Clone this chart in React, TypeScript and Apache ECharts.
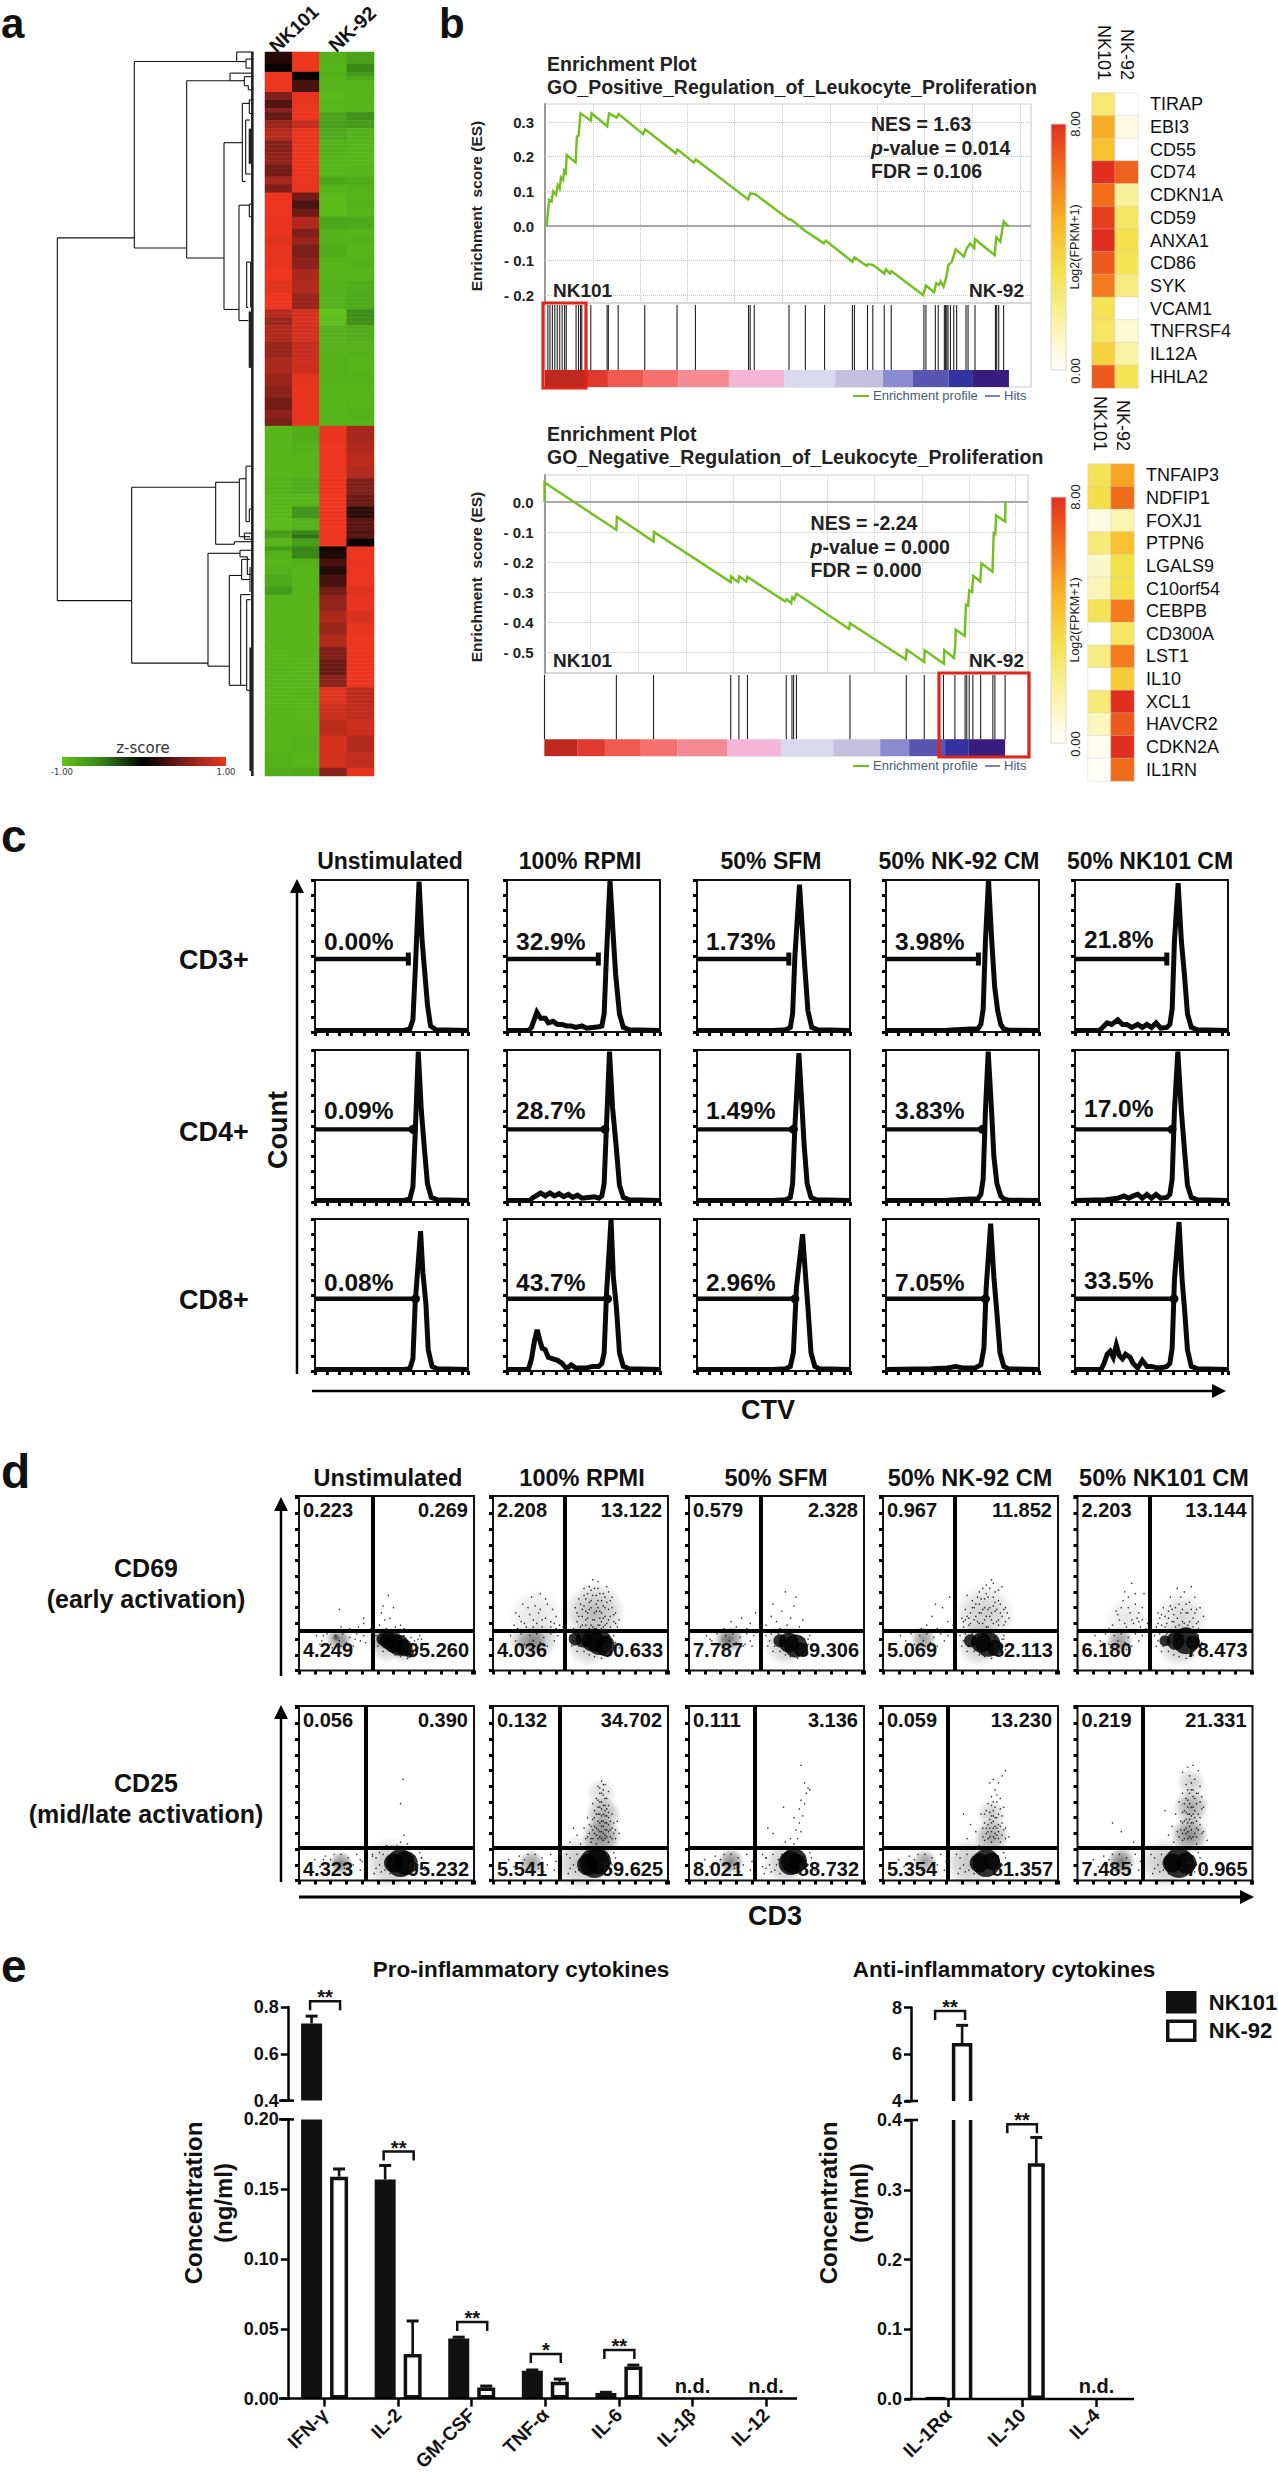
import React, { useEffect, useRef } from "react";
import * as echarts from "echarts";

const F = '"Liberation Sans", Arial, sans-serif';
const DJ = '"DejaVu Sans", sans-serif';

/* ---------- panel a ---------- */
const heatRuns = [
  [3,.15,1,-.85,-.75],[2,.03,1,-.88,-.55],[1,1,.02,-.85,-.7],[1,1,.05,-.9,-.8],[3,1,.28,-.88,-.88],[2,.5,.98,-.92,-.88],
  [2,.32,.98,-.9,-.9],[1,.55,.98,-.9,-.88],[2,.4,1,-.75,-.62],[2,.62,.82,-.72,-.7],[3,.75,.98,-.8,-.85],[3,.52,.98,-.85,-.88],
  [3,.58,1,-.88,-.9],[3,.45,.98,-.9,-.88],[2,.68,.98,-.78,-.82],[2,.5,.98,-.88,-.85],[2,1,.45,-.92,-.88],[2,1,.3,-.95,-.85],
  [2,1,.42,-.95,-.9],[3,.98,.72,-.78,-.8],[2,.98,.5,-.85,-.88],[2,.95,.62,-.85,-.85],[3,.98,.48,-.82,-.88],[3,.98,.55,-.88,-.85],
  [3,1,.7,-.88,-.88],[3,.95,.72,-.85,-.82],[4,1,.62,-.85,-.8],[2,.75,.88,-.98,-.6],[2,.62,.9,-.95,-.62],[4,.72,.88,-.85,-.82],
  [4,.62,.82,-.85,-.85],[4,.7,.85,-.85,-.88],[3,.62,.95,-.85,-.85],[3,.55,.98,-.88,-.88],[3,.45,.98,-.9,-.88],[2,.55,.98,-.88,-.85],
  [2,.48,.98,-.88,-.88],[4,-.9,-.82,.98,.68],[3,-.88,-.85,1,.72],[3,-.88,-.88,1,.78],[3,-.9,-.88,1,.72],[4,-.85,-.82,1,.5],
  [3,-.9,-.88,1,.42],[3,-.9,-.65,1,.18],[3,-.92,-.85,1,.35],[1,-.7,-.55,1,.3],[1,-.75,-.45,1,.35],[2,-.9,-.72,1,.05],
  [1,-.7,-.55,.05,1],[2,-.85,-.55,.12,1],[2,-.9,-.85,.28,.98],[2,-.85,-.9,.15,1],[3,-.8,-.88,.28,1],[2,-.7,-.88,.45,.95],
  [4,-.88,-.88,.58,.98],[3,-.9,-.9,.7,.92],[3,-.9,-.9,.62,.98],[3,-.88,-.9,.72,1],[3,-.9,-.88,.5,1],[4,-.88,-.9,.42,1],
  [3,-.88,-.88,.55,1],[4,-.9,-.88,.95,.78],[4,-.88,-.9,.85,.8],[4,-.9,-.88,.78,.85],[4,-.88,-.85,.9,.72],[4,-.85,-.88,.88,.8],
  [2,-.82,-.8,.55,.95],
];
const dendroLinks = [
  [172,472,172,1192],[172,472,403,472],[172,1192,395,1192],
  [403,122,403,492],[403,122,710,122],[403,492,560,492],
  [710,103,710,122],[710,103,760,103],[710,122,738,122],[738,117,738,135],[738,117,760,117],[738,135,752,135],
  [560,160,560,512],[560,160,690,160],[560,512,672,512],
  [690,145,690,160],[690,145,755,145],[690,160,733,160],[733,152,733,170],[733,152,760,152],[733,170,745,170],[745,170,745,178],[745,178,760,178],
  [672,283,672,614],[672,283,727,283],[672,614,717,614],
  [727,205,727,360],[727,205,748,205],[748,198,748,225],[748,198,760,198],[748,225,760,225],[727,360,737,360],[737,238,737,345],[737,238,750,238],[737,345,752,345],
  [717,407,717,636],[717,407,748,407],[717,636,745,636],[748,405,748,430],[748,405,758,405],[748,430,758,430],
  [740,520,740,610],[740,520,752,520],[752,520,752,610],[740,610,745,610],
  [395,967,395,1316],[395,967,647,967],[395,1316,624,1316],
  [647,957,647,1080],[647,957,718,957],[647,1080,703,1080],
  [718,950,718,1065],[718,950,738,950],[718,1065,750,1065],[738,925,738,1035],[738,925,755,925],[738,1035,748,1035],[748,1010,748,1035],[748,1010,758,1010],
  [703,1075,703,1080],[703,1075,755,1075],[733,1058,733,1070],[733,1058,755,1058],[733,1070,755,1070],
  [624,1098,624,1322],[624,1098,720,1098],[624,1322,688,1322],
  [720,1092,720,1105],[720,1092,755,1092],[720,1105,742,1105],[742,1105,742,1140],[742,1140,755,1140],
  [688,1142,688,1360],[688,1142,725,1142],[688,1360,722,1360],
  [725,1110,725,1150],[725,1110,750,1110],[725,1150,750,1150],[750,1125,750,1175],
  [722,1180,722,1360],[722,1180,752,1180],[722,1360,740,1360],
  [740,1190,740,1370],[740,1190,752,1190],[740,1370,752,1370],
];
const dendroThick = [[757,103,757,1540],[750,618,750,730],[750,255,750,325],[752,1285,752,1530]];

/* ---------- panel b ---------- */
const esTop = [
  [262,0],[268,.075],[274,.07],[278,.1],[285,.09],[289,.118],[294,.108],[297,.14],[302,.133],[305,.16],[309,.153],[311,.205],
  [333,.183],[336,.258],[340,.26],[345,.325],[370,.304],[372,.325],[410,.288],[415,.325],[433,.313],[438,.323],[498,.265],
  [503,.279],[578,.21],[582,.221],[622,.183],[627,.192],[755,.077],[760,.094],[772,.092],[855,.019],[860,.019],[893,-.013],
  [940,-.05],[945,-.042],[1010,-.103],[1015,-.09],[1045,-.115],[1048,-.11],[1060,-.112],[1088,-.137],[1092,-.125],[1102,-.137],
  [1105,-.13],[1183,-.199],[1190,-.172],[1210,-.191],[1215,-.165],[1222,-.17],[1226,-.16],[1233,-.175],[1240,-.146],[1245,-.112],
  [1253,-.103],[1263,-.067],[1283,-.088],[1290,-.064],[1298,-.05],[1308,-.064],[1310,-.038],[1358,-.084],[1362,-.033],[1372,-.045],
  [1380,.013],[1393,-.002],
];
const esBottom = [
  [256,0],[256,.065],[432,-.093],[433,-.049],[523,-.132],[524,-.1],[712,-.267],[713,-.248],[730,-.267],[733,-.248],[750,-.265],
  [753,-.25],[845,-.331],[849,-.324],[860,-.337],[863,-.317],[868,-.324],[873,-.305],[1002,-.423],[1004,-.404],[1141,-.525],
  [1143,-.492],[1186,-.533],[1187,-.494],[1234,-.539],[1235,-.494],[1259,-.52],[1262,-.476],[1263,-.426],[1285,-.446],[1288,-.343],
  [1293,-.346],[1296,-.295],[1303,-.3],[1306,-.246],[1323,-.265],[1326,-.204],[1353,-.232],[1356,-.104],[1360,-.107],[1362,-.045],
  [1384,-.065],[1385,.003],
];
const hitsTop = [265,270,276,282,288,294,300,306,310,334,340,345,348,370,410,413,437,502,581,626,756,760,770,855,895,942,1010,1015,1047,1060,1088,1105,1185,1190,1213,1220,1235,1238,1241,1244,1250,1258,1265,1288,1293,1310,1360,1363,1368,1380];
const hitsBottom = [256,432,523,712,732,753,848,862,866,873,1004,1142,1186,1233,1261,1286,1290,1296,1305,1324,1354,1359,1384];
const bandColors = ["#c0281f","#e03a30","#ee5a50","#f77070","#f58a92","#f4b5d8","#d8d8ee","#c6c0e0","#8a8ad0","#5a55b0","#3333a0","#3a1c80"];
const bandTop = [258,358,412,498,585,708,843,968,1085,1157,1245,1303,1393];
const bandBottom = [256,336,404,492,581,703,835,963,1078,1149,1237,1295,1384];
const ticksTop = [.3,.2,.1,0,-.1,-.2];
const ticksBottom = [0,-.1,-.2,-.3,-.4,-.5];
const vGridTop = [375,490,605,722,838,955,1070,1187,1303,1420];
const vGridBottom = [368,485,602,717,833,948,1063,1180,1295,1410];
const genesTop = ["TIRAP","EBI3","CD55","CD74","CDKN1A","CD59","ANXA1","CD86","SYK","VCAM1","TNFRSF4","IL12A","HHLA2"];
const fpkmTop101 = [2.5,5,4.4,8,6.5,7.6,8,7,6.2,3,2.8,3.8,7];
const fpkmTop92 = [0,.5,0,6.8,1.8,2.8,3.2,3,2.2,0,.8,1.6,3];
const genesBottom = ["TNFAIP3","NDFIP1","FOXJ1","PTPN6","LGALS9","C10orf54","CEBPB","CD300A","LST1","IL10","XCL1","HAVCR2","CDKN2A","IL1RN"];
const fpkmBottom101 = [3,3.3,.5,2.4,1,1.3,3,0,2.2,0,2.4,1.2,.3,.1];
const fpkmBottom92 = [5.2,6.6,1.4,4.4,3.2,3.2,6.2,2.8,6.2,4,8,7,8,6.6];
const cellNames = ["NK101","NK-92"];
const fpkmColors = ["#ffffff","#f9f3a6","#f4e14c","#f8b628","#f3731c","#e02f20"];

/* ---------- panel c ---------- */
const conditions = ["Unstimulated","100% RPMI","50% SFM","50% NK-92 CM","50% NK101 CM"];
const subsets = ["CD3+","CD4+","CD8+"];
const ctvPercents = [
  ["0.00%","32.9%","1.73%","3.98%","21.8%"],
  ["0.09%","28.7%","1.49%","3.83%","17.0%"],
  ["0.08%","43.7%","2.96%","7.05%","33.5%"],
];
const gateEnds = [[61,59.7,60,60.4,60],[64,64,63,63,63.4],[65.7,65.7,64,65,64.7]];
const gateLevels = [48,47.8,47.5];
const hist = [
  [
    [0,1,58,1,62,2,64,8,65.5,40,68,99,70,60,71.5,42,73.5,18,75.5,4,79,1.5,100,1],
    [0,1,14,1,16,3,19.5,13,22,9,25,9,27,6,30,7,33,5,36,5,39,4,42,4,45,3,49,4,52,2.5,56,3,60,3.5,62,4,63.5,12,65,50,67.3,100,69.5,62,71,38,73.5,12,76,3,80,1.5,100,1],
    [0,1,50,1,58,1.5,61,3,62.5,12,64,50,67,97,69,65,70.5,42,72.5,14,75,3,79,1.5,100,1],
    [0,1,40,1.2,55,2,60,2,62,5,63.5,15,65,60,67,100,69,62,71,30,73,14,75,5,77,2,80,1.2,100,1],
    [0,1,16,1,18,3,21,6,24,5,28,8,31,5,34,5,37,3,41,5,44,3,47,5,50,3,53,6,56,2.5,60,3,62,5,63.5,15,65,60,67.4,98,69.5,60,71.5,38,73.5,12,76,3,80,1.5,100,1],
  ],
  [
    [0,1,58,1,62,2,64,10,65.5,45,67.5,99,69.5,60,71.5,35,73.5,12,76,3,80,1.5,100,1],
    [0,1,15,1,17,3,19,4,22,6,25,4,28,6,31,4,34,5.5,37,3.5,40,5,43,3,46,4.5,49,2.5,53,3,57,3.5,60,2.5,62,4,63.5,12,65,50,67,99,69,62,71.5,35,73.5,11,76,3,80,1.5,100,1],
    [0,1,50,1,58,1.5,61,3,62.5,12,64,50,66.6,98,68.5,65,70,38,72,12,74.5,3,78,1.5,100,1],
    [0,1,40,1.2,55,2,60,2,62,5,63.5,15,65,60,66.8,99,69,60,70.5,30,72.5,12,75,4,77,2,80,1.2,100,1],
    [0,1,20,1.5,28,2.5,32,4,35,2.5,38,4,41,5,44,2.5,47,5,50,2.5,53,5,56,2.5,60,3,62,5,63.5,15,65,60,67.2,99,69.5,60,71.5,35,73.5,11,76,3,80,1.5,100,1],
  ],
  [
    [0,1,58,1,62,1.5,64,8,65.5,45,69,92,70.5,65,72.5,44,74,14,76.5,3,80,1.5,100,1],
    [0,1,14,1,16,8,18,20,19.7,27,21.5,20,23,15,25,14,27,9,30,8,33,7,36,5,39,1.5,42,4,45,2,48,2,52,2,56,3,60,3,62,5,63.5,12,65,50,68,100,69.5,62,71.5,42,73.5,12,76,3,80,1.5,100,1],
    [0,1,50,1,58,1.5,61,3,63,12,65,55,69,90,71,62,72.5,42,74.5,12,77,3,80,1.5,100,1],
    [0,1,30,1.5,40,2,45.7,3,50,2,58,2,62,4,64,15,65.5,55,68.4,97,70.5,62,72.5,38,74.5,12,77,3,80,1.5,100,1],
    [0,1,17,1,19,5,21,11,23,13,25,9,27,17,29,10,31,8,33,11,36,9,38,5,41,2,44,7,47,3,50,3,54,2,58,2.5,60,3,62,5,63.5,15,65,60,68,98,70,60,71.5,42,73.5,14,76,3,80,1.5,100,1],
  ],
];

/* ---------- panel d ---------- */
const markers = ["CD69","CD25"];
const quadrants = [
  [["0.223","0.269","4.249","95.260"],["2.208","13.122","4.036","80.633"],["0.579","2.328","7.787","89.306"],["0.967","11.852","5.069","82.113"],["2.203","13.144","6.180","78.473"]],
  [["0.056","0.390","4.323","95.232"],["0.132","34.702","5.541","59.625"],["0.111","3.136","8.021","88.732"],["0.059","13.230","5.354","81.357"],["0.219","21.331","7.485","70.965"]],
];
const gatesX = [[42,41,41,41,41],[38,38,37.5,37,37.5]];
const gatesY = [23,18.5];
const clouds = [
  [
    [[48,18,13,1],[51,17,17,1],[54,16,20,1],[57,14.5,21,1],[60,13,17,1],[63,10,9,1],[50,15,38,.3],[46,18,22,.3],[60,10,24,.2],[21,19,8,.6],[22,18,24,.5],[26,17,20,.25]],
    [[47,18,13,1],[52,18,17,1],[57,17,22,1],[61,16,25,1],[64,14,20,1],[55,15,46,.3],[22,17,30,.5],[28,17,34,.25],[15,17,22,.25],[58,33,62,.35],[25,30,58,.14]],
    [[52,17,13,1],[57,16,20,1],[61,14,23,1],[64,12,14,1],[55,15,44,.3],[24,18,26,.6],[20,18,20,.35]],
    [[50,17,13,1],[56,16,20,1],[60,15,25,1],[64,13,16,1],[55,15,46,.3],[23,18,26,.5],[58,32,62,.25]],
    [[50,17,11,1],[56,17,18,1],[62,17,27,1],[66,16,14,1],[58,15,46,.3],[24,17,28,.5],[60,30,54,.2],[28,30,44,.12]],
  ],
  [
    [[54,10,19,1],[58,10,28,1],[61,10,24,1],[52,10,52,.3],[24,10,24,.6]],
    [[54,9,21,1],[58,10,30,1],[60,11,26,1],[50,10,56,.3],[62,25,40,.6],[63,38,36,.4],[62,50,32,.18],[22,10,26,.5]],
    [[58,10,24,1],[60,11,26,1],[62,10,17,1],[55,10,44,.3],[24,11,26,.6]],
    [[55,10,19,1],[59,10,28,1],[62,11,17,1],[50,10,52,.3],[62,25,36,.45],[62,38,30,.25],[24,11,24,.5]],
    [[54,10,19,1],[58,10,30,1],[62,10,21,1],[50,10,52,.3],[64,26,38,.6],[65,42,36,.45],[65,56,30,.25],[25,11,28,.65]],
  ],
];
const dots = [
  [
    [46,26,50,24,47,33,52,30,54,36,51,43,49,29,55,25,58,26,60,24,48,37,34,25,37,27,29,24,24,25,41,24,37,30,23,35,14,20,32,18,38,16,12,15,66,17,68,13,64,8,70,18],
    [48,28,51,31,53,26,55,35,57,29,59,38,60,26,62,33,64,42,66,29,68,36,70,27,47,36,49,41,52,37,54,44,56,40,58,47,61,44,63,37,65,48,67,40,69,32,71,25,50,25,52,47,57,52,60,51,62,28,64,31,58,33,56,26,54,30,60,36,63,25,66,35,59,43,61,30,55,39,53,34,12,26,15,31,18,27,20,36,23,29,26,33,28,25,31,38,33,28,36,31,38,26,22,42,27,44,17,38,30,30,34,35,25,27,19,25,14,24,36,24,40,25,66,20,70,16,72,13,46,24,48,33,50,38,51,26,52,43,53,29,54,33,55,24,55,48,56,36,57,25,57,43,58,29,59,24,59,34,60,40,60,47,61,34,61,26,62,40,62,24,63,30,63,44,64,36,65,27,65,39,66,45,67,31,67,25,68,42,69,28,70,33,72,29,49,31,51,35,53,41,56,46,58,24,64,26,23,25,27,35,21,32,16,28,30,41,33,25,24,37,28,29,35,27,13,33],
    [44,26,47,31,50,28,53,34,56,26,58,30,60,37,61,42,55,45,52,24,63,25,65,29,48,38,30,30,35,27,27,25,24,28,38,33,33,24,20,24,66,18,68,15,12,18,32,15,36,14],
    [45,30,47,35,49,26,51,40,53,31,55,45,57,27,58,36,59,49,60,42,61,31,62,52,63,37,64,45,65,28,66,40,67,33,68,48,69,26,70,36,72,30,48,43,52,36,54,28,56,33,58,41,60,25,62,29,64,34,66,26,50,33,46,25,55,38,59,31,61,36,63,42,25,26,28,31,31,24,34,36,30,38,37,28,22,24,38,42,40,26,69,18,71,14,46,28,48,31,50,27,52,29,53,38,54,42,55,27,56,41,57,47,58,29,59,25,60,35,61,47,62,33,63,27,64,39,65,35,66,29,66,46,67,38,68,31,69,35,70,28,71,33,63,50,59,44,57,35,55,33,51,36,49,30,47,29],
    [20,26,22,34,24,29,26,40,27,45,28,25,30,33,31,50,32,27,33,38,34,30,36,25,37,36,38,44,25,36,29,42,35,28,18,24,40,27,39,24,45,25,47,30,49,36,51,27,53,42,55,32,56,25,58,38,60,28,61,45,62,33,63,26,64,39,65,48,66,30,68,27,70,36,72,31,57,47,52,34,48,26,59,33,67,42,54,28,69,24,71,16,46,27,48,32,50,25,52,30,53,37,55,28,56,36,57,30,58,26,59,42,60,35,61,27,62,38,63,33,64,28,65,35,66,25,67,33,68,35,69,28,46,33,50,31,54,35,23,32,27,27,29,36,31,29,33,44,35,33,37,29],
  ],
  [
    [59.5,58,58,44,58,22,56,20,53,19.5,60,26,50,20,62,21,42,14,46,16,70,13,72,8,35,12,14,12,12,8],
    [56,22,58,27,60,24,62,31,64,26,66,22,57,35,59,30,61,38,63,34,65,29,67,25,55,27,53,24,60,42,62,45,64,40,66,36,58,40,56,31,68,30,70,24,50,21,52,30,54,36,61,50,63,52,65,47,59,47,57,44,62,57,64,55,60,54,66,43,68,38,61,28,63,23,59,21,65,33,60,34,62,37,64,43,61,45,63,49,48,26,72,27,71,34,46,30,44,22,66,51,57,24,58,31,59,26,60,29,60,38,61,25,61,33,61,42,62,24,62,28,62,34,62,41,62,50,63,27,63,31,63,38,63,43,63,55,64,24,64,29,64,33,64,37,64,47,65,25,65,37,65,41,66,28,66,32,66,39,67,29,67,34,68,24,69,27,69,33,70,29,58,36,59,38,57,29,55,32,54,25,56,24,60,46,61,53],
    [62,24,64,28,60,21,63,33,65,37,61,29,66,44,67,50,68,53,63,41,64,46,58,24,55,22,48,27,45,30,64,66,66,56,69,52,54,42,60,36,42,8,44,13],
    [55,20,57,25,59,30,61,35,63,40,65,45,62,22,64,27,66,32,68,37,60,24,58,33,56,38,60,44,62,48,64,52,66,56,68,60,70,63,61,30,63,34,65,26,67,22,53,28,50,32,48,24,70,30,72,25,69,42,67,47,63,58,61,56,59,40,62,28,64,36,46,38,58,23,59,27,60,28,60,32,61,25,61,39,62,33,62,37,62,43,63,25,63,30,63,37,63,45,64,24,64,31,64,42,65,30,65,36,65,49,66,24,66,28,66,38,67,31,67,41,68,26,68,33,69,29,70,24,57,30,58,38],
    [55,22,57,28,59,34,61,40,63,46,65,52,67,58,69,63,66,66,68,30,70,36,72,42,60,23,62,27,64,31,66,25,68,21,58,45,60,50,62,55,64,60,66,48,68,44,70,54,62,35,64,38,66,42,63,65,60,62,56,38,54,31,52,26,50,40,72,28,74,23,65,33,67,36,61,29,63,24,69,50,71,48,20,33,25,28,32,22,58,25,59,29,60,27,60,33,60,39,61,24,61,34,61,44,62,30,62,39,62,47,63,28,63,33,63,38,63,42,63,52,64,25,64,35,64,44,64,50,65,24,65,29,65,37,65,42,65,56,66,33,66,38,66,52,67,27,67,40,67,47,68,25,68,34,68,50,69,29,69,38,70,32,70,45,71,27,71,41],
  ],
];
const fringe = [
  [10,20,13,17,16,21,18,15,21,20,23,17,25,21,27,16,29,19,31,14,33,21,35,17,37,20,19,13,24,14,28,12,44,20,46,17,47,21,49,14,51,21,52,11,54,20,55,9,57,21,58,8,60,20,62,7,64,19,66,9,68,18,70,12,48,11,45,14,63,14,67,15,69,20],
  [9,12,12,8,15,14,17,9,20,15,22,6,24,15,26,7,28,13,31,9,33,15,35,6,36,11,18,12,29,5,44,13,46,9,48,15,49,6,51,12,52,4,47,5,44,7,50,9,53,15,66,14,68,9,70,13,72,6,67,5,69,16,42,15,43,4],
];

/* ---------- panel e ---------- */
const cytoPro = ["IFN-γ","IL-2","GM-CSF","TNF-α","IL-6","IL-1β","IL-12"];
const proNK101 = [.73,.157,.043,.02,.004,null,null];
const proNK92 = [.159,.032,.008,.012,.023,null,null];
const proErr101 = [.761,.167,.044,.0205,.0045,null,null];
const proErr92 = [.1645,.0556,.009,.014,.024,null,null];
const proSig = [[1,.177,"**"],[2,.0548,"**"],[3,.032,"*"],[4,.0348,"**"]];
const proSigTop = [[0,.825,"**"]];
const proND = [5,6];
const cytoAnti = ["IL-1Rα","IL-10","IL-4"];
const antiNK101 = [.003,.0015,null];
const antiNK92 = [6.41,.338,null];
const antiErr92 = [7.24,.375,null];
const antiSig = [[1,.394,"**"]];
const antiSigTop = [[0,7.85,"**"]];
const antiND = [2];

/* ---------- helpers ---------- */
const pairs = (a: number[]) => { const o: number[][] = []; for (let i = 0; i < a.length; i += 2) o.push([a[i], a[i + 1]]); return o; };
const deg = (d: number) => (d * Math.PI) / 180;

function buildOption() {
  const grid: any[] = [], xAxis: any[] = [], yAxis: any[] = [], series: any[] = [], visualMap: any[] = [], G: any[] = [];
  const addGrid = (g: any, x: any, y: any) => {
    const i = grid.length;
    grid.push({ containLabel: false, ...g });
    xAxis.push({ gridIndex: i, ...x });
    yAxis.push({ gridIndex: i, ...y });
    return i;
  };
  const text = (t: string, x: number, y: number, size: number, o: any = {}) => {
    G.push({
      type: "text", x, y, rotation: o.rot || 0, silent: true, z: 60,
      style: {
        text: t, fill: o.fill || "#111", font: `${o.weight || "bold"} ${size}px ${o.family || F}`,
        textAlign: o.align || "left", textVerticalAlign: "middle", rich: o.rich,
      },
    });
  };
  const bText = (t: string, x: number, base: number, size: number, o: any = {}) => text(t, x, base - 0.35 * size, size, o);
  const gLine = (x1: number, y1: number, x2: number, y2: number, w: number, c = "#000") =>
    G.push({ type: "line", silent: true, z: 55, shape: { x1, y1, x2, y2 }, style: { stroke: c, lineWidth: w } });
  const gPoly = (pts: number[][]) => G.push({ type: "polygon", silent: true, z: 55, shape: { points: pts }, style: { fill: "#000" } });
  const gGradBar = (x: number, y: number, w: number, h: number, grad: any, stroke?: string) =>
    G.push({ type: "rect", silent: true, z: 55, shape: { x, y, width: w, height: h }, style: { fill: grad, stroke: stroke || null, lineWidth: 1 } });
  const box = (x: number, y: number, w: number, h: number, c: string, lw: number) =>
    G.push({ type: "rect", silent: true, z: 58, shape: { x, y, width: w, height: h }, style: { fill: "none", stroke: c, lineWidth: lw } });
  const segs = (gi: number, data: number[][], color: string, width: number) => series.push({
    type: "custom", xAxisIndex: gi, yAxisIndex: gi, silent: true, data, encode: { x: [0, 2], y: [1, 3] },
    renderItem: (_: any, api: any) => {
      const a = api.coord([api.value(0), api.value(1)]), b = api.coord([api.value(2), api.value(3)]);
      return { type: "line", shape: { x1: a[0], y1: a[1], x2: b[0], y2: b[1] }, style: { stroke: color, lineWidth: width } };
    },
  });
  const labelFont = (size: number, weight: string, color: string) => ({ fontSize: size, fontWeight: weight, fontFamily: F, color });

  /* panel letters */
  bText("a", 1, 38, 42); bText("b", 439, 38, 42); bText("c", 1, 852, 46); bText("d", 1, 1488, 48); bText("e", 1, 1982, 46);

  /* ---- a ---- */
  const heatData: number[][] = [];
  let row = 0;
  heatRuns.forEach((r) => { for (let n = 0; n < r[0]; n++) { for (let c = 0; c < 4; c++) heatData.push([c, row, r[c + 1]]); row++; } });
  const rowNames = Array.from({ length: row }, (_, i) => String(i));
  const ha = addGrid({ left: 265, top: 52, width: 109, height: 724 },
    { type: "category", data: ["NK101-1", "NK101-2", "NK-92-1", "NK-92-2"], show: false },
    { type: "category", data: rowNames, inverse: true, show: false });
  visualMap.push({ type: "continuous", show: false, min: -1, max: 1, dimension: 2, seriesIndex: series.length, inRange: { color: ["#62c41a", "#35801a", "#000000", "#80201a", "#ec3620"] } });
  series.push({ type: "heatmap", xAxisIndex: ha, yAxisIndex: ha, data: heatData, silent: true, progressive: 0, itemStyle: { borderWidth: 0 } });
  text("NK101", 294, 29, 19, { rot: deg(43), align: "center" });
  text("NK-92", 352, 29, 19.5, { rot: deg(43), align: "center" });
  const dg = addGrid({ left: 0, top: 52, width: 800 / 3, height: 724 },
    { type: "value", min: 0, max: 800, show: false }, { type: "value", min: 103, max: 1540, inverse: true, show: false });
  segs(dg, dendroLinks, "#111", 1.1);
  segs(dg, dendroThick, "#222", 2.6);
  gGradBar(62, 757, 164, 9, new echarts.graphic.LinearGradient(0, 0, 1, 0, [
    { offset: 0, color: "#62c41a" }, { offset: .25, color: "#35801a" }, { offset: .5, color: "#000" }, { offset: .75, color: "#80201a" }, { offset: 1, color: "#ec3620" },
  ]));
  text("z-score", 143, 748, 15, { weight: "normal", family: DJ, align: "center", fill: "#333" });
  text("-1.00", 62, 772, 8.5, { weight: "normal", family: DJ, align: "center", fill: "#333" });
  text("1.00", 226, 772, 8.5, { weight: "normal", family: DJ, align: "center", fill: "#333" });

  /* ---- b ---- */
  const fmt = (v: number) => (v < 0 ? "- " + Math.abs(v).toFixed(1) : v.toFixed(1));
  const esPlot = (cfg: any) => {
    const g = addGrid({ left: cfg.left, top: cfg.top, width: cfg.width, height: cfg.h, show: true, borderColor: "#cfcfcf", borderWidth: 1.2, backgroundColor: "#fff" },
      { type: "value", min: cfg.xMin, max: cfg.xMax, show: false },
      {
        type: "value", min: cfg.yMin, max: cfg.yMax, splitLine: { show: false },
        axisLine: { show: true, onZero: false, lineStyle: { color: "#9a9a9a", width: 2 } }, axisTick: { show: false },
        axisLabel: { customValues: cfg.ticks, formatter: fmt, margin: 11, ...labelFont(15, "bold", "#222") },
      });
    series.push({
      type: "line", xAxisIndex: g, yAxisIndex: g, data: cfg.es, showSymbol: false, silent: true, clip: false, z: 5,
      lineStyle: { color: "#71c01d", width: 2.4, join: "miter" },
      markLine: {
        silent: true, symbol: "none", label: { show: false }, animation: false,
        lineStyle: { color: "#c9c9c9", width: 1, type: "dotted" },
        data: [...cfg.vGrid.map((x: number) => ({ xAxis: x })), ...cfg.ticks.filter((t: number) => t !== 0).map((t: number) => ({ yAxis: t })),
          { yAxis: 0, lineStyle: { color: "#a8a8b0", width: 2, type: "solid" } }],
      },
    });
    const hg = addGrid({ left: cfg.left, top: cfg.top + cfg.h, width: cfg.width, height: cfg.hh, show: true, borderColor: "#c9c9c9", borderWidth: 1.2 },
      { type: "value", min: cfg.xMin, max: cfg.xMax, show: false }, { type: "value", min: 0, max: 84, show: false });
    const bands = cfg.band.slice(0, -1).map((x: number, i: number) => [x, cfg.band[i + 1]]);
    series.push({
      type: "custom", xAxisIndex: hg, yAxisIndex: hg, silent: true, data: bands, encode: { x: [0, 1] },
      renderItem: (p: any, api: any) => {
        const a = api.coord([api.value(0), 17]), b = api.coord([api.value(1), 0]);
        return { type: "rect", shape: { x: a[0], y: a[1], width: b[0] - a[0], height: b[1] - a[1] }, style: { fill: bandColors[p.dataIndex] } };
      },
    });
    series.push({
      type: "custom", xAxisIndex: hg, yAxisIndex: hg, silent: true, data: cfg.hits.map((x: number) => [x]), encode: { x: 0 },
      renderItem: (_: any, api: any) => {
        const a = api.coord([api.value(0), 17]), b = api.coord([api.value(0), 82]);
        return { type: "line", shape: { x1: a[0], y1: a[1], x2: b[0], y2: b[1] }, style: { stroke: "#222", lineWidth: 1.1 } };
      },
    });
    bText("Enrichment Plot", 547, cfg.t1, 19.5, { fill: "#222" });
    bText(cfg.title, 547, cfg.t1 + 23, 19.5, { fill: "#222" });
    bText(cfg.nes, cfg.statX, cfg.s1, 19.5, { fill: "#222" });
    bText(cfg.pv, cfg.statX, cfg.s1 + 23.5, 19.5, {
      fill: "#222",
      rich: { i: { fontStyle: "italic", fontWeight: "bold", fontSize: 19.5, fontFamily: F, fill: "#222", color: "#222" } },
    });
    bText(cfg.fdr, cfg.statX, cfg.s1 + 47, 19.5, { fill: "#222" });
    bText("NK101", 553, cfg.nkY, 19, { fill: "#222" });
    bText("NK-92", 1024, cfg.nkY, 19, { align: "right", fill: "#222" });
    text("Enrichment  score (ES)", 476, cfg.ylY, 15.5, { rot: deg(90), align: "center", fill: "#222" });
    gLine(853, cfg.legY, 869, cfg.legY, 2, "#71c01d");
    bText("Enrichment profile", 873, cfg.legY + 4, 13, { weight: "normal", fill: "#4a5a78" });
    gLine(985, cfg.legY, 1000, cfg.legY, 1.5, "#5555aa");
    bText("Hits", 1004, cfg.legY + 4, 13, { weight: "normal", fill: "#4a5a78" });
    box(cfg.bx, cfg.by, cfg.bw, cfg.bh, "#e0251b", 3.2);
  };
  esPlot({
    left: 545, top: 104, width: 486, h: 199, hh: 84, xMin: 258, xMax: 1447, yMin: -.222, yMax: .352, ticks: ticksTop, vGrid: vGridTop,
    es: esTop, hits: hitsTop, band: bandTop, t1: 71, title: "GO_Positive_Regulation_of_Leukocyte_Proliferation",
    statX: 871, s1: 131, nes: "NES = 1.63", pv: "{i|p}-value = 0.014", fdr: "FDR = 0.106", nkY: 297, ylY: 206, legY: 396, bx: 543, by: 303, bw: 43, bh: 85,
  });
  esPlot({
    left: 544.5, top: 475, width: 483.5, h: 198, hh: 83, xMin: 256, xMax: 1440, yMin: -.57, yMax: .09, ticks: ticksBottom, vGrid: vGridBottom,
    es: esBottom, hits: hitsBottom, band: bandBottom, t1: 441, title: "GO_Negative_Regulation_of_Leukocyte_Proliferation",
    statX: 810.6, s1: 530, nes: "NES = -2.24", pv: "{i|p}-value = 0.000", fdr: "FDR = 0.000", nkY: 667, ylY: 577, legY: 766, bx: 939, by: 673, bw: 90, bh: 84,
  });
  const fpkmGrad = () => new echarts.graphic.LinearGradient(0, 1, 0, 0, fpkmColors.map((c, i) => ({ offset: i / (fpkmColors.length - 1), color: c })));
  const fpkm = (cfg: any) => {
    gGradBar(1051, cfg.barTop, 15, cfg.barH, fpkmGrad(), "#d8d8d0");
    text("8.00", 1075, cfg.barTop, 13, { rot: deg(90), align: "center", weight: "normal", fill: "#222" });
    text("0.00", 1075, cfg.barTop + cfg.barH + 1, 13, { rot: deg(90), align: "center", weight: "normal", fill: "#222" });
    text("Log2(FPKM+1)", 1075, cfg.barTop + cfg.barH / 2, 12.5, { rot: deg(90), align: "center", weight: "normal", fill: "#222" });
    const g = addGrid({ left: cfg.left, top: cfg.top, width: cfg.w, height: cfg.h },
      {
        type: "category", data: cellNames, position: "top", axisLine: { show: false }, axisTick: { show: false },
        axisLabel: { interval: 0, rotate: 90, margin: 13, ...labelFont(18, "normal", "#111") },
      },
      {
        type: "category", data: cfg.genes, inverse: true, position: "right", axisLine: { show: false }, axisTick: { show: false },
        axisLabel: { interval: 0, margin: 12, ...labelFont(18, "normal", "#111") },
      });
    visualMap.push({ type: "continuous", show: false, min: 0, max: 8, dimension: 2, seriesIndex: series.length, inRange: { color: fpkmColors } });
    const d: number[][] = [];
    cfg.genes.forEach((_: string, i: number) => { d.push([0, i, cfg.a[i]]); d.push([1, i, cfg.b[i]]); });
    series.push({ type: "heatmap", xAxisIndex: g, yAxisIndex: g, data: d, silent: true, itemStyle: { borderColor: "rgba(205,205,190,.6)", borderWidth: .6 } });
  };
  fpkm({ barTop: 124, barH: 246, left: 1092, top: 93, w: 46, h: 295, genes: genesTop, a: fpkmTop101, b: fpkmTop92 });
  fpkm({ barTop: 497, barH: 246, left: 1088, top: 464, w: 46, h: 317, genes: genesBottom, a: fpkmBottom101, b: fpkmBottom92 });

  /* ---- c ---- */
  const flowAxis = (interval: number) => ({
    type: "value", min: 0, max: 100, interval,
    axisLine: { show: true, lineStyle: { color: "transparent" } }, splitLine: { show: false }, axisLabel: { show: false },
    axisTick: { show: true, length: 4, lineStyle: { color: "#000", width: 3 } },
  });
  const cX = [315, 507, 697, 886, 1075], cY = [880, 1050, 1219], cW = 153, cH = 152;
  const cTitleX = [390, 580, 771, 959, 1150];
  conditions.forEach((t, i) => bText(t, cTitleX[i], 869, 23, { align: "center" }));
  [960, 1132, 1300].forEach((y, i) => text(subsets[i], 214, y, 27, { align: "center" }));
  text("Count", 278, 1130, 27, { rot: deg(90), align: "center" });
  gLine(297, 1374, 297, 884, 2.5); gPoly([[297, 879], [290, 893], [304, 893]]);
  gLine(312, 1391, 1220, 1391, 2.5); gPoly([[1226, 1391], [1212, 1384], [1212, 1398]]);
  bText("CTV", 768, 1419, 27, { align: "center" });
  const pctBase = [950, 1119, 1291];
  hist.forEach((rowH, r) => rowH.forEach((h, c) => {
    const g = addGrid({ left: cX[c], top: cY[r], width: cW, height: cH, show: true, borderColor: "#111", borderWidth: 2, backgroundColor: "#fff" }, flowAxis(8), flowAxis(10));
    series.push({ type: "line", xAxisIndex: g, yAxisIndex: g, data: pairs(h), showSymbol: false, silent: true, clip: false, lineStyle: { color: "#0a0a0a", width: 5, join: "miter" } });
    series.push({
      type: "line", xAxisIndex: g, yAxisIndex: g, silent: true, clip: false, showSymbol: true, showAllSymbol: true,
      symbol: r === 0 ? "rect" : "circle", symbolSize: r === 0 ? [5, 13] : 9, itemStyle: { color: "#0a0a0a" },
      lineStyle: { color: "#0a0a0a", width: 4.4 },
      data: [{ value: [0, gateLevels[r]], symbol: "none" }, { value: [gateEnds[r][c], gateLevels[r]] }],
    });
    bText(ctvPercents[r][c], cX[c] + 9, pctBase[r] - (c === 4 ? 2 : 0), 24.5);
  }));

  /* ---- d ---- */
  const dX = [299, 493, 689, 883, 1077.5], dY = [1496, 1706], dW = 175, dH = 174.5;
  const dTitleX = [388, 582, 776, 970, 1164];
  conditions.forEach((t, i) => bText(t, dTitleX[i], 1486, 23.5, { align: "center" }));
  bText(markers[0], 146, 1577, 25, { align: "center" });
  bText("(early activation)", 146, 1608, 25, { align: "center" });
  bText(markers[1], 146, 1792, 25, { align: "center" });
  bText("(mid/late activation)", 146, 1823, 25, { align: "center" });
  gLine(281, 1676, 281, 1502, 2.5); gPoly([[281, 1497], [274, 1511], [288, 1511]]);
  gLine(281, 1882, 281, 1710, 2.5); gPoly([[281, 1705], [274, 1719], [288, 1719]]);
  gLine(299, 1897, 1248, 1897, 3); gPoly([[1254, 1897], [1240, 1890], [1240, 1904]]);
  bText("CD3", 775, 1925, 27, { align: "center" });
  const cloudItem = (v: number[]) => ({
    value: v,
    itemStyle: {
      color: v[3] >= 1 ? "#000" : new echarts.graphic.RadialGradient(.5, .5, .5, [
        { offset: 0, color: `rgba(0,0,0,${v[3]})` }, { offset: .6, color: `rgba(0,0,0,${v[3] * .55})` }, { offset: 1, color: "rgba(0,0,0,0)" },
      ]),
    },
  });
  quadrants.forEach((rowQ, r) => rowQ.forEach((q, c) => {
    const g = addGrid({ left: dX[c], top: dY[r], width: dW, height: dH, show: true, borderColor: "#111", borderWidth: 2, backgroundColor: "#fff" }, flowAxis(9), flowAxis(9));
    series.push({
      type: "scatter", xAxisIndex: g, yAxisIndex: g, data: clouds[r][c].map(cloudItem), silent: true,
      symbolSize: (v: number[]) => v[2], z: 2,
    });
    series.push({
      type: "scatter", xAxisIndex: g, yAxisIndex: g, data: pairs(dots[r][c].concat(fringe[r])), silent: true, symbolSize: 1.5, itemStyle: { color: "#000" }, z: 3,
      markLine: {
        silent: true, symbol: "none", label: { show: false }, animation: false, lineStyle: { color: "#000", width: 4, type: "solid" },
        data: [{ xAxis: gatesX[r][c] }, { yAxis: gatesY[r] }],
      },
    });
    const top = dY[r] + 20.5, bot = dY[r] + (r === 0 ? 161 : 170);
    bText(q[0], dX[c] + 4, top, 20);
    bText(q[1], dX[c] + dW - 6, top, 20, { align: "right" });
    bText(q[2], dX[c] + 4, bot, 20);
    bText(q[3], dX[c] + dW - 5, bot, 20, { align: "right" });
  }));

  /* ---- e ---- */
  const tickStyle = { show: true, length: 7, lineStyle: { color: "#000", width: 2.5 } };
  const yStyle = (min: number, max: number, interval: number, digits: number) => ({
    type: "value", min, max, interval, splitLine: { show: false },
    axisLine: { show: true, onZero: false, lineStyle: { color: "#000", width: 2.5 } }, axisTick: tickStyle,
    axisLabel: { formatter: (v: number) => v.toFixed(digits), margin: 9, ...labelFont(18, "bold", "#111") },
  });
  const xHidden = (cats: string[]) => ({ type: "category", data: cats, show: false });
  const xShown = (cats: string[]) => ({
    type: "category", data: cats, axisLine: { show: false }, axisTick: { show: true, alignWithLabel: true, length: 8, lineStyle: { color: "#000", width: 2.5 } },
    axisLabel: { interval: 0, rotate: 45, margin: 13, ...labelFont(19, "bold", "#111") },
  });
  const bars = (gi: number, black: any[] | null, white: any[], wb: number, ww: number, p: string) => {
    series.push({ type: "bar", name: "NK101", xAxisIndex: gi, yAxisIndex: gi, data: black, barWidth: wb, barGap: p, silent: true, itemStyle: { color: "#111", borderColor: "#111", borderWidth: 0 } });
    series.push({ type: "bar", name: "NK-92", xAxisIndex: gi, yAxisIndex: gi, data: white, barWidth: ww, barGap: p, silent: true, itemStyle: { color: "#fff", borderColor: "#111", borderWidth: 3.5 } });
  };
  const errs = (gi: number, list: number[][], off: number) => series.push({
    type: "custom", xAxisIndex: gi, yAxisIndex: gi, silent: true, data: list, encode: { x: 0, y: [1, 2] }, z: 4,
    renderItem: (_: any, api: any) => {
      const a = api.coord([api.value(0), api.value(1)]), b = api.coord([api.value(0), api.value(2)]);
      const x = a[0] + off;
      return {
        type: "group", children: [
          { type: "line", shape: { x1: x, y1: a[1], x2: x, y2: b[1] }, style: { stroke: "#111", lineWidth: 2.6 } },
          { type: "line", shape: { x1: x - 6, y1: b[1], x2: x + 6, y2: b[1] }, style: { stroke: "#111", lineWidth: 3 } },
        ],
      };
    },
  });
  const brackets = (gi: number, list: any[], dl: number, dr: number) => series.push({
    type: "custom", xAxisIndex: gi, yAxisIndex: gi, silent: true, data: list.map((s) => [s[0], s[1]]), encode: { x: 0, y: 1 }, z: 5,
    renderItem: (p: any, api: any) => {
      const a = api.coord([api.value(0), api.value(1)]);
      return {
        type: "group", children: [
          { type: "polyline", shape: { points: [[a[0] + dl, a[1] + 9], [a[0] + dl, a[1]], [a[0] + dr, a[1]], [a[0] + dr, a[1] + 9]] }, style: { stroke: "#111", fill: "none", lineWidth: 2.5 } },
          { type: "text", style: { text: list[p.dataIndex][2], x: a[0] + (dl + dr) / 2, y: a[1] - 4, fill: "#111", font: `bold 20px ${F}`, textAlign: "center", textVerticalAlign: "middle" } },
        ],
      };
    },
  });
  const nds = (gi: number, list: number[]) => series.push({
    type: "custom", xAxisIndex: gi, yAxisIndex: gi, silent: true, data: list.map((c) => [c, 0]), encode: { x: 0, y: 1 }, z: 5,
    renderItem: (_: any, api: any) => {
      const a = api.coord([api.value(0), 0]);
      return { type: "text", style: { text: "n.d.", x: a[0], y: a[1] - 13, fill: "#111", font: `bold 20px ${F}`, textAlign: "center", textVerticalAlign: "middle" } };
    },
  });
  const errList = (vals: any[], tops: any[]) => vals.map((v, i) => (v == null || tops[i] == null ? null : [i, v, tops[i]])).filter(Boolean) as number[][];

  // pro-inflammatory
  const pu = addGrid({ left: 287.8, top: 2007, width: 515, height: 93.6 }, xHidden(cytoPro), yStyle(.4, .8, .2, 1));
  const pl = addGrid({ left: 287.8, top: 2119.4, width: 515, height: 279.2 }, xShown(cytoPro), yStyle(0, .2, .05, 2));
  bars(pu, proNK101.map((v, i) => (i === 0 ? v : null)), proNK92.map(() => null), 21, 18, "38%");
  bars(pl, proNK101, proNK92, 21, 18, "38%");
  errs(pu, [[0, .73, .761]], -13);
  errs(pl, errList(proNK101, proErr101).filter((e) => e[0] !== 0), -13);
  errs(pl, errList(proNK92, proErr92), 14.5);
  brackets(pu, proSigTop, -14.5, 15.5);
  brackets(pl, proSig, -14.5, 15.5);
  nds(pl, proND);
  gLine(279, 2398.6, 797, 2398.6, 2.5);
  gLine(279, 2100.6, 294, 2100.6, 2.5);
  gLine(279, 2119.4, 294, 2119.4, 2.5);
  bText("Pro-inflammatory cytokines", 521, 1977, 22.5, { align: "center" });
  text("Concentration", 193, 2203, 24, { rot: deg(90), align: "center" });
  text("(ng/ml)", 223, 2203, 24, { rot: deg(90), align: "center" });

  // anti-inflammatory
  const au = addGrid({ left: 911, top: 2007.6, width: 222.6, height: 93.4 }, xHidden(cytoAnti), yStyle(4, 8, 2, 0));
  const al = addGrid({ left: 911, top: 2120, width: 222.6, height: 279 }, xShown(cytoAnti), yStyle(0, .4, .1, 1));
  const antiLowWhite = antiNK92.map((v, i) => (i === 0 ? { value: v, itemStyle: { color: "#fff", borderWidth: 0 } } : v));
  bars(al, antiNK101, antiLowWhite, 20, 17, "40%");
  // the broken bar of IL-1Rα has open ends, which a clipped bar cannot show
  series.push({
    type: "custom", xAxisIndex: al, yAxisIndex: al, silent: true, data: [[0, 0, .4]], encode: { x: 0, y: [1, 2] }, z: 4,
    renderItem: (_: any, api: any) => {
      const a = api.coord([0, api.value(1)]), b = api.coord([0, api.value(2)]);
      const x1 = a[0] + 14 - 8.5, x2 = a[0] + 14 + 8.5;
      return {
        type: "group", children: [
          { type: "line", shape: { x1, y1: a[1], x2: x1, y2: b[1] }, style: { stroke: "#111", lineWidth: 3.5 } },
          { type: "line", shape: { x1: x2, y1: a[1], x2, y2: b[1] }, style: { stroke: "#111", lineWidth: 3.5 } },
        ],
      };
    },
  });
  series.push({
    type: "custom", xAxisIndex: au, yAxisIndex: au, silent: true, data: [[0, 4, antiNK92[0]]], encode: { x: 0, y: [1, 2] }, z: 4,
    renderItem: (_: any, api: any) => {
      const a = api.coord([0, api.value(1)]), b = api.coord([0, api.value(2)]);
      const x1 = a[0] + 14 - 8.5, x2 = a[0] + 14 + 8.5;
      return { type: "polyline", shape: { points: [[x1, a[1]], [x1, b[1]], [x2, b[1]], [x2, a[1]]] }, style: { stroke: "#111", fill: "none", lineWidth: 3.5 } };
    },
  });
  errs(au, [[0, antiNK92[0] as number, antiErr92[0] as number]], 14);
  errs(al, [[1, antiNK92[1] as number, antiErr92[1] as number]], 14);
  brackets(au, antiSigTop, -13, 17);
  brackets(al, antiSig, -15, 14.6);
  nds(al, antiND);
  gLine(905, 2399, 1134, 2399, 2.5);
  gLine(905, 2101, 918, 2101, 2.5);
  gLine(905, 2120, 918, 2120, 2.5);
  bText("Anti-inflammatory cytokines", 1004, 1977, 22.5, { align: "center" });
  text("Concentration", 828, 2203, 24, { rot: deg(90), align: "center" });
  text("(ng/ml)", 859, 2203, 24, { rot: deg(90), align: "center" });

  return {
    animation: false,
    backgroundColor: "#fff",
    grid, xAxis, yAxis, series, visualMap,
    legend: {
      data: ["NK101", "NK-92"], orient: "vertical", left: 1166, top: 1991, padding: 0, itemWidth: 27, itemHeight: 19, itemGap: 6, icon: "rect",
      selectedMode: false, textStyle: { fontFamily: F, fontWeight: "bold", fontSize: 22, color: "#111", padding: [0, 0, 0, 9] },
      itemStyle: { borderWidth: 3.5, borderColor: "#111" },
    },
    graphic: { elements: G },
  };
}

export default function App() {
  const ref = useRef<HTMLDivElement>(null);
  useEffect(() => {
    const chart = echarts.init(ref.current as HTMLDivElement, undefined, { renderer: "svg", width: 1278, height: 2475 });
    chart.setOption(buildOption() as any);
    return () => chart.dispose();
  }, []);
  return <div ref={ref} style={{ position: "absolute", left: 0, top: 0, width: 1278, height: 2475, background: "#fff" }} />;
}
